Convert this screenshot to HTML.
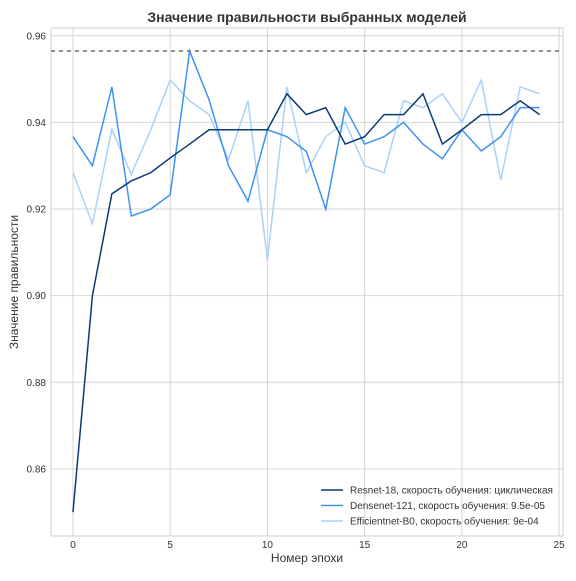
<!DOCTYPE html>
<html><head><meta charset="utf-8"><style>
body{margin:0;background:#fff;font-family:"Liberation Sans","DejaVu Sans",sans-serif}
</style></head><body>
<svg id="chart" width="576" height="576" xmlns="http://www.w3.org/2000/svg">
<rect x="0" y="0" width="576" height="576" fill="#fff"/>
<g id="grid"></g>
<g id="marks"></g>
<g id="ticks" font-size="10" fill="#333"></g>
<text x="307" y="22" text-anchor="middle" font-size="14" font-weight="bold" fill="#333">Значение правильности выбранных моделей</text>
<text x="307" y="562" text-anchor="middle" font-size="12" fill="#333">Номер эпохи</text>
<text transform="translate(18,282) rotate(-90)" text-anchor="middle" font-size="12" fill="#333">Значение правильности</text>
<g id="legend" font-size="10" fill="#333"></g>
</svg>
<script>
const epochs = [0,1,2,3,4,5,6,7,8,9,10,11,12,13,14,15,16,17,18,19,20,21,22,23,24];
const resnet = [0.850,0.900,0.9235,0.9265,0.9284,0.9318,0.935,0.9383,0.9383,0.9383,0.9383,0.9466,0.9418,0.9434,0.935,0.9367,0.9418,0.9418,0.9466,0.935,0.9383,0.9418,0.9418,0.945,0.9418];
const densenet = [0.9367,0.930,0.9482,0.9184,0.920,0.9233,0.9565,0.9452,0.930,0.9218,0.9383,0.9367,0.9333,0.920,0.9434,0.935,0.9367,0.940,0.935,0.9316,0.9383,0.9334,0.9367,0.9434,0.9434];
const efficient = [0.9284,0.9166,0.9383,0.928,0.9383,0.9498,0.945,0.9418,0.9314,0.945,0.9083,0.9482,0.9284,0.9367,0.940,0.930,0.9284,0.945,0.9434,0.9466,0.940,0.9498,0.9267,0.9482,0.9466];
const xTicks = [0,5,10,15,20,25];
const yTicks = [0.86,0.88,0.90,0.92,0.94,0.96];
const seriesNames = ["Resnet-18, скорость обучения: циклическая","Densenet-121, скорость обучения: 9.5e-05","Efficientnet-B0, скорость обучения: 9e-04"];

const L=51,R=563,T=28,B=536;
const xMin=-1.13,xMax=25.2,yMin=0.8445,yMax=0.9618;
const sx=v=>L+(v-xMin)/(xMax-xMin)*(R-L);
const sy=v=>B-(v-yMin)/(yMax-yMin)*(B-T);
const NS="http://www.w3.org/2000/svg";
function mk(tag,attrs,parent){const e=document.createElementNS(NS,tag);for(const k in attrs)e.setAttribute(k,attrs[k]);parent.appendChild(e);return e;}
const grid=document.getElementById('grid'),marks=document.getElementById('marks'),ticks=document.getElementById('ticks'),legend=document.getElementById('legend');
xTicks.forEach(t=>{
  const l=mk('line',{x1:sx(t),x2:sx(t),y1:T,y2:B,stroke:'#d6d6d6','stroke-width':1},grid);
  
  
  const tx=mk('text',{x:sx(t),y:B+12,'text-anchor':'middle'},ticks);tx.textContent=t;
  
  
});
yTicks.forEach(t=>{
  const l=mk('line',{x1:L,x2:R,y1:sy(t),y2:sy(t),stroke:'#d6d6d6','stroke-width':1},grid);
  
  
  const tx=mk('text',{x:L-5,y:sy(t)+3.5,'text-anchor':'end'},ticks);tx.textContent=t.toFixed(2);
  
  
});
const fr=mk('rect',{x:L,y:T,width:R-L,height:B-T,fill:'none',stroke:'#cfcfcf'},grid);


const maxV=Math.max(...resnet,...densenet,...efficient);
const ml=mk('line',{x1:L,x2:R,y1:sy(maxV),y2:sy(maxV),stroke:'#222','stroke-width':1,'stroke-dasharray':'4,4'},marks);


const colors=['#0b3a76','#3d93f2','#a9d2fb'];
const names=['resnet-line','densenet-line','efficientnet-line'];
[resnet,densenet,efficient].slice().reverse();
[efficient,densenet,resnet].forEach((s,ri)=>{
  const i=2-ri;
  const p=mk('polyline',{points:s.map((v,k)=>sx(epochs[k])+','+sy(v)).join(' '),fill:'none',stroke:colors[i],'stroke-width':1.5},marks);
  
  
});
seriesNames.forEach((n,i)=>{
  const y=490+i*15.5;
  const l=mk('line',{x1:321,x2:343,y1:y,y2:y,stroke:colors[i],'stroke-width':1.5},legend);
  
  
  const t=mk('text',{x:350,y:y+3.5},legend);t.textContent=n;
  
  
});
</script>
</body></html>
